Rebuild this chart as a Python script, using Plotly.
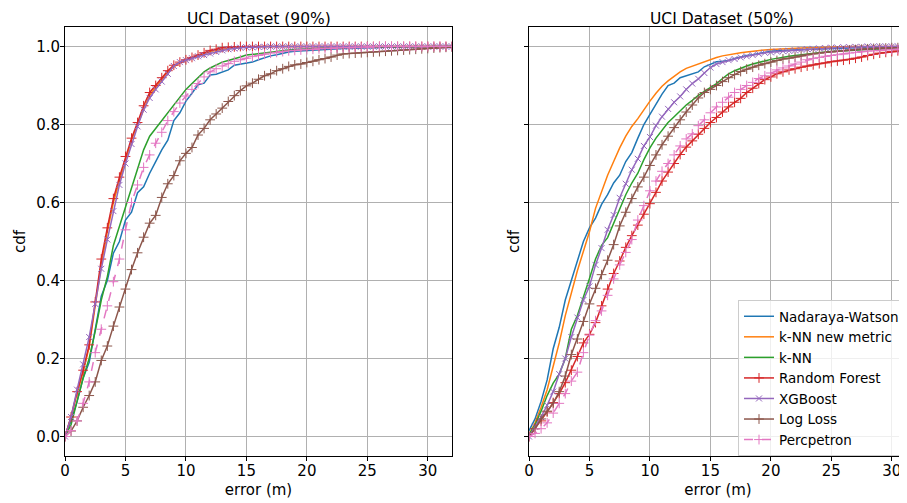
import plotly.graph_objects as go

# ---------------- data (error grid in metres, cdf values) ----------------
ERR = [0, 0.5, 1, 1.5, 2, 2.5, 3, 3.5, 4, 4.5,
       5, 5.5, 6, 6.5, 7, 7.5, 8, 8.5, 9, 9.5,
       10, 10.5, 11, 11.5, 12, 12.5, 13, 13.5, 14, 14.5,
       15, 15.5, 16, 16.5, 17, 17.5, 18, 18.5, 19, 19.5,
       20, 20.5, 21, 21.5, 22, 22.5, 23, 23.5, 24, 24.5,
       25, 25.5, 26, 26.5, 27, 27.5, 28, 28.5, 29, 29.5,
       30, 30.5, 31, 31.5, 32]

NAMES = ["Nadaraya-Watson", "k-NN new metric", "k-NN", "Random Forest",
         "XGBoost", "Log Loss", "Percpetron"]

# UCI Dataset (90%)
NW_90 = [0, 0.04, 0.09, 0.15, 0.19, 0.27, 0.36, 0.40, 0.47, 0.50,
         0.555, 0.575, 0.625, 0.64, 0.675, 0.705, 0.735, 0.76, 0.81, 0.83,
         0.86, 0.88, 0.902, 0.906, 0.927, 0.929, 0.935, 0.94, 0.952, 0.955,
         0.957, 0.96, 0.966, 0.972, 0.976, 0.979, 0.983, 0.986, 0.988, 0.989,
         0.99, 0.991, 0.992, 0.993, 0.994, 0.994, 0.995, 0.995, 0.996, 0.996,
         0.997, 0.997, 0.998, 0.998, 0.998, 0.999, 0.999, 0.999, 0.999, 1,
         1, 1, 1, 1, 1]
KNN_NEW_90 = [0, 0.05, 0.11, 0.165, 0.23, 0.33, 0.44, 0.525, 0.60, 0.655,
              0.71, 0.76, 0.80, 0.84, 0.875, 0.895, 0.915, 0.935, 0.948, 0.958,
              0.965, 0.971, 0.977, 0.982, 0.987, 0.99, 0.993, 0.995, 0.997, 0.998,
              0.999, 0.999, 1, 1, 1, 1, 1, 1, 1, 1,
              1, 1, 1, 1, 1, 1, 1, 1, 1, 1,
              1, 1, 1, 1, 1, 1, 1, 1, 1, 1,
              1, 1, 1, 1, 1]
KNN_90 = [0, 0.03, 0.09, 0.15, 0.20, 0.27, 0.35, 0.41, 0.49, 0.54,
          0.59, 0.635, 0.69, 0.735, 0.77, 0.79, 0.81, 0.83, 0.85, 0.87,
          0.89, 0.905, 0.92, 0.935, 0.945, 0.952, 0.96, 0.964, 0.968, 0.973,
          0.978, 0.98, 0.982, 0.984, 0.986, 0.988, 0.99, 0.991, 0.992, 0.993,
          0.994, 0.995, 0.996, 0.996, 0.997, 0.997, 0.998, 0.998, 0.998, 0.999,
          0.999, 0.999, 0.999, 1, 1, 1, 1, 1, 1, 1,
          1, 1, 1, 1, 1]
RF_90 = [0, 0.05, 0.115, 0.17, 0.235, 0.345, 0.455, 0.535, 0.61, 0.665,
         0.718, 0.765, 0.805, 0.848, 0.882, 0.90, 0.92, 0.938, 0.952, 0.96,
         0.966, 0.972, 0.978, 0.984, 0.99, 0.993, 0.997, 0.998, 0.999, 1,
         1, 1, 1, 1, 1, 1, 1, 1, 1, 1,
         1, 1, 1, 1, 1, 1, 1, 1, 1, 1,
         1, 1, 1, 1, 1, 1, 1, 1, 1, 1,
         1, 1, 1, 1, 1]
XGB_90 = [0, 0.05, 0.12, 0.185, 0.255, 0.34, 0.43, 0.505, 0.578, 0.645,
          0.70, 0.75, 0.795, 0.838, 0.868, 0.89, 0.91, 0.93, 0.95, 0.96,
          0.965, 0.97, 0.975, 0.978, 0.982, 0.986, 0.99, 0.993, 0.995, 0.997,
          0.998, 0.998, 0.999, 0.999, 1, 1, 1, 1, 1, 1,
          1, 1, 1, 1, 1, 1, 1, 1, 1, 1,
          1, 1, 1, 1, 1, 1, 1, 1, 1, 1,
          1, 1, 1, 1, 1]
LOG_90 = [0, 0.014, 0.04, 0.075, 0.105, 0.14, 0.195, 0.232, 0.283, 0.332,
          0.378, 0.428, 0.471, 0.511, 0.547, 0.567, 0.613, 0.648, 0.669, 0.707,
          0.726, 0.741, 0.773, 0.79, 0.812, 0.827, 0.842, 0.859, 0.874, 0.887,
          0.899, 0.906, 0.916, 0.925, 0.93, 0.938, 0.943, 0.949, 0.953, 0.955,
          0.959, 0.962, 0.966, 0.969, 0.973, 0.978, 0.981, 0.982, 0.983, 0.984,
          0.985, 0.986, 0.987, 0.988, 0.989, 0.99, 0.991, 0.992, 0.993, 0.994,
          0.995, 0.996, 0.997, 0.998, 0.999]
PERC_90 = [0, 0.015, 0.04, 0.085, 0.14, 0.215, 0.275, 0.335, 0.397, 0.455,
           0.53, 0.60, 0.645, 0.69, 0.722, 0.752, 0.78, 0.81, 0.833, 0.855,
           0.873, 0.89, 0.905, 0.922, 0.935, 0.943, 0.95, 0.956, 0.962, 0.966,
           0.97, 0.974, 0.977, 0.98, 0.983, 0.985, 0.987, 0.989, 0.99, 0.991,
           0.992, 0.993, 0.994, 0.995, 0.996, 0.996, 0.997, 0.997, 0.998, 0.998,
           0.999, 0.999, 1, 1, 1, 1, 1, 1, 1, 1,
           1, 1, 1, 1, 1]

# UCI Dataset (50%)
NW_50 = [0.015, 0.045, 0.09, 0.145, 0.225, 0.28, 0.35, 0.40, 0.455, 0.50,
         0.535, 0.56, 0.595, 0.62, 0.65, 0.67, 0.705, 0.728, 0.765, 0.80,
         0.826, 0.853, 0.878, 0.90, 0.906, 0.92, 0.925, 0.93, 0.935, 0.948,
         0.955, 0.961, 0.962, 0.964, 0.969, 0.973, 0.977, 0.979, 0.982, 0.985,
         0.988, 0.989, 0.99, 0.991, 0.992, 0.992, 0.993, 0.993, 0.994, 0.994,
         0.995, 0.995, 0.996, 0.996, 0.997, 0.997, 0.998, 0.998, 0.999, 0.999,
         1, 1, 1, 1, 1]
KNN_NEW_50 = [0.005, 0.035, 0.075, 0.12, 0.18, 0.24, 0.31, 0.37, 0.425, 0.475,
              0.525, 0.585, 0.63, 0.67, 0.705, 0.74, 0.77, 0.795, 0.815, 0.838,
              0.86, 0.88, 0.898, 0.912, 0.924, 0.935, 0.944, 0.95, 0.955, 0.96,
              0.966, 0.972, 0.976, 0.979, 0.981, 0.984, 0.986, 0.988, 0.99, 0.991,
              0.992, 0.993, 0.994, 0.995, 0.995, 0.996, 0.997, 0.997, 0.998, 0.998,
              0.999, 0.999, 1, 1, 1, 1, 1, 1, 1, 1,
              1, 1, 1, 1, 1]
KNN_50 = [0.005, 0.03, 0.065, 0.105, 0.137, 0.16, 0.20, 0.275, 0.31, 0.355,
          0.405, 0.455, 0.49, 0.51, 0.547, 0.58, 0.62, 0.65, 0.675, 0.71,
          0.74, 0.765, 0.785, 0.805, 0.82, 0.835, 0.85, 0.862, 0.875, 0.885,
          0.895, 0.905, 0.918, 0.93, 0.938, 0.945, 0.95, 0.955, 0.96, 0.963,
          0.967, 0.97, 0.972, 0.975, 0.977, 0.979, 0.981, 0.983, 0.984, 0.986,
          0.987, 0.988, 0.989, 0.99, 0.99, 0.991, 0.992, 0.992, 0.993, 0.993,
          0.994, 0.994, 0.995, 0.995, 0.996]
RF_50 = [0, 0.02, 0.04, 0.063, 0.087, 0.11, 0.138, 0.17, 0.205, 0.24,
         0.262, 0.292, 0.335, 0.378, 0.418, 0.45, 0.485, 0.515, 0.542, 0.57,
         0.597, 0.626, 0.655, 0.678, 0.70, 0.723, 0.742, 0.758, 0.775, 0.79,
         0.805, 0.818, 0.832, 0.845, 0.857, 0.867, 0.882, 0.893, 0.905, 0.915,
         0.922, 0.93, 0.935, 0.94, 0.943, 0.947, 0.95, 0.953, 0.956, 0.958,
         0.961, 0.963, 0.965, 0.967, 0.97, 0.973, 0.977, 0.98, 0.983, 0.985,
         0.987, 0.989, 0.99, 0.991, 0.992]
XGB_50 = [0, 0.025, 0.05, 0.08, 0.115, 0.16, 0.20, 0.255, 0.305, 0.35,
          0.385, 0.44, 0.483, 0.53, 0.568, 0.612, 0.648, 0.684, 0.712, 0.745,
          0.768, 0.797, 0.82, 0.84, 0.857, 0.872, 0.89, 0.905, 0.917, 0.932,
          0.946, 0.955, 0.96, 0.965, 0.968, 0.972, 0.975, 0.978, 0.981, 0.984,
          0.985, 0.987, 0.988, 0.989, 0.99, 0.992, 0.993, 0.994, 0.995, 0.996,
          0.997, 0.997, 0.998, 0.998, 0.999, 0.999, 1, 1, 1, 1,
          1, 1, 1, 1, 1]
LOG_50 = [0, 0.02, 0.045, 0.065, 0.085, 0.115, 0.155, 0.21, 0.25, 0.295,
          0.34, 0.38, 0.415, 0.452, 0.492, 0.54, 0.575, 0.61, 0.64, 0.665,
          0.695, 0.722, 0.748, 0.77, 0.792, 0.812, 0.832, 0.85, 0.868, 0.882,
          0.89, 0.9, 0.91, 0.92, 0.928, 0.936, 0.942, 0.947, 0.952, 0.956,
          0.96, 0.964, 0.968, 0.97, 0.973, 0.976, 0.979, 0.981, 0.983, 0.985,
          0.986, 0.988, 0.989, 0.991, 0.992, 0.993, 0.994, 0.995, 0.996, 0.996,
          0.997, 0.997, 0.998, 0.998, 0.999]
PERC_50 = [0, 0.008, 0.02, 0.035, 0.06, 0.085, 0.11, 0.142, 0.165, 0.215,
           0.26, 0.297, 0.322, 0.362, 0.404, 0.44, 0.472, 0.505, 0.555, 0.592,
           0.63, 0.655, 0.68, 0.70, 0.722, 0.745, 0.763, 0.776, 0.797, 0.812,
           0.83, 0.845, 0.857, 0.87, 0.882, 0.89, 0.90, 0.908, 0.918, 0.925,
           0.932, 0.94, 0.945, 0.95, 0.955, 0.96, 0.966, 0.969, 0.972, 0.975,
           0.977, 0.979, 0.981, 0.983, 0.985, 0.987, 0.988, 0.989, 0.99, 0.991,
           0.992, 0.993, 0.994, 0.995, 0.996]

SERIES_90 = [NW_90, KNN_NEW_90, KNN_90, RF_90, XGB_90, LOG_90, PERC_90]
SERIES_50 = [NW_50, KNN_NEW_50, KNN_50, RF_50, XGB_50, LOG_50, PERC_50]

TITLES = ["UCI Dataset (90%)", "UCI Dataset (50%)"]
X_TICKS = [0, 5, 10, 15, 20, 25, 30]
Y_TICKS = [0.0, 0.2, 0.4, 0.6, 0.8, 1.0]
Y_TICK_TEXT = ["0.0", "0.2", "0.4", "0.6", "0.8", "1.0"]

# ---------------- styles ----------------
COLORS = ["#1f77b4", "#ff7f0e", "#2ca02c", "#d62728", "#9467bd", "#8c564b", "#e377c2"]
SYMBOLS = [None, None, None, "cross-thin", "x-thin", "cross-thin", "cross-thin"]
DASHES = ["solid"] * 6 + ["dash"]
FONT = "DejaVu Sans"

# the page body has an 8px margin, so the figure is drawn 8px in from the window corner
OFF = 8
W, H = 907 - OFF, 503 - OFF
fig = go.Figure()

for panel, series in enumerate([SERIES_90, SERIES_50]):
    xa = "x" if panel == 0 else "x2"
    ya = "y" if panel == 0 else "y2"
    for i, ys in enumerate(series):
        sym = SYMBOLS[i]
        tr = dict(x=ERR, y=ys, xaxis=xa, yaxis=ya, name=NAMES[i],
                  legendgroup=NAMES[i], showlegend=(panel == 1),
                  line=dict(color=COLORS[i], width=1.5, dash=DASHES[i]),
                  cliponaxis=True, hoverinfo="skip")
        if sym:
            tr["mode"] = "lines+markers"
            tr["marker"] = dict(symbol=sym, size=7 if sym == "cross-thin" else 6,
                                color=COLORS[i],
                                line=dict(color=COLORS[i], width=1))
        else:
            tr["mode"] = "lines"
        fig.add_trace(go.Scatter(**tr))

# panel geometry (window pixels of the reference)
L1, R1 = 65, 452
L2, R2 = 529, 907
TOP, BOT = 27, 456
xdom1 = [(L1 - OFF) / W, (R1 - OFF) / W]
xdom2 = [(L2 - OFF) / W, (R2 - OFF) / W]
ydom = [(H - (BOT - OFF)) / H, (H - (TOP - OFF)) / H]
x2max = (R2 - L2) / ((R1 - L1) / 32.0)

axis_common = dict(showline=True, linecolor="black", linewidth=1,
                   ticks="outside", ticklen=4, tickwidth=1, tickcolor="black",
                   showgrid=True, gridcolor="#b0b0b0", gridwidth=1,
                   zeroline=False, automargin=False,
                   tickfont=dict(family=FONT, size=15, color="black"))

fig.update_layout(
    width=W, height=H,
    margin=dict(l=0, r=0, t=0, b=0),
    paper_bgcolor="white", plot_bgcolor="white",
    font=dict(family=FONT, size=15, color="black"),
    xaxis=dict(domain=xdom1, range=[0, 32], tickvals=X_TICKS, mirror=True,
               anchor="y", ticklabelstandoff=-3,
               title=dict(text="error (m)", font=dict(family=FONT, size=15), standoff=5),
               **axis_common),
    yaxis=dict(domain=ydom, range=[-0.05, 1.05], tickvals=Y_TICKS, ticktext=Y_TICK_TEXT,
               mirror=True, anchor="x", ticklabelstandoff=-3,
               title=dict(text="cdf", font=dict(family=FONT, size=15), standoff=6),
               **axis_common),
    xaxis2=dict(domain=xdom2, range=[0, x2max], tickvals=X_TICKS, mirror=True,
                anchor="y2", ticklabelstandoff=-3,
                title=dict(text="error (m)", font=dict(family=FONT, size=15), standoff=5),
                **axis_common),
    yaxis2=dict(domain=ydom, range=[-0.05, 1.05], tickvals=Y_TICKS, ticktext=Y_TICK_TEXT,
                mirror=False, anchor="x2", showticklabels=False,
                title=dict(text="cdf", font=dict(family=FONT, size=15), standoff=0),
                **axis_common),
    legend=dict(x=(738 - OFF) / W, y=(H - (300 - OFF)) / H, xanchor="left", yanchor="top",
                bgcolor="rgba(255,255,255,0.8)", bordercolor="#cccccc", borderwidth=1,
                font=dict(family=FONT, size=13.5, color="black"),
                tracegroupgap=0),
    showlegend=True,
)

for k, t in enumerate(TITLES):
    cx = ((L1 + R1) / 2 - OFF) / W if k == 0 else ((L2 + 915) / 2 - OFF) / W
    fig.add_annotation(text=t, x=cx, y=1.0, xref="paper", yref="paper",
                       showarrow=False, xanchor="center", yanchor="top",
                       font=dict(family=FONT, size=15.5, color="black"))

fig.write_html("out.html")
